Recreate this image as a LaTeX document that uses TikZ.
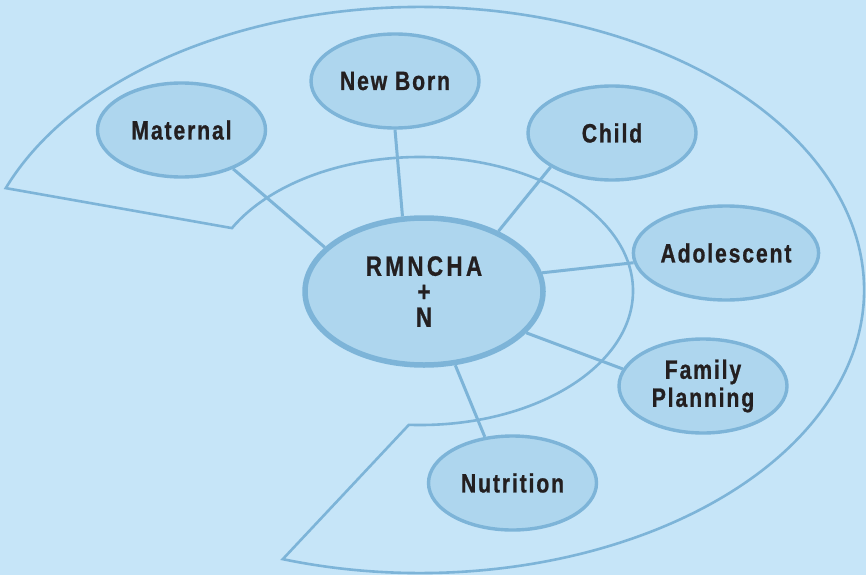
\documentclass[tikz,border=0pt]{standalone}
\usepackage{fontspec}
\usepackage{tikz}
\usetikzlibrary{shapes.geometric}
\newfontfamily\labelfont{Liberation Sans}[FakeStretch=0.8, LetterSpace=7, FakeBold=0.8]
\newfontfamily\hubfont{Liberation Sans}[FakeStretch=0.8, LetterSpace=12, FakeBold=0.8]
\definecolor{sky}{RGB}{198,229,248}
\definecolor{cloud}{RGB}{174,214,238}
\definecolor{rim}{RGB}{125,180,216}
\definecolor{ink}{RGB}{35,31,32}
\newcommand*{\group}[1]{\fontsize{#1}{28}\selectfont\labelfont\bfseries}

\begin{document}
\begin{tikzpicture}[x=1pt, y=-1pt]
  \fill[sky] (0,0) rectangle (866,575);
  \useasboundingbox (0,0) rectangle (866,575);

  % band round the hub
  \draw[rim, line width=2.6pt, line join=miter]
    ([shift={(420,290)}]201.1:444 and 283)
      arc[start angle=201.1, end angle=468, x radius=444, y radius=283]
    -- ([shift={(420,291)}]93:213 and 134)
      arc[start angle=93, end angle=-152, x radius=213, y radius=134]
    -- cycle;

  {\tikzstyle{every node}=[ellipse, draw=rim, fill=cloud, line width=3.4pt,
     text=ink, align=center, inner sep=0pt,
     minimum width=168pt, minimum height=94pt, font=\group{26.5}]
    \node[line width=5.5pt, minimum width=238pt, minimum height=147pt,
          font=\fontsize{28}{25.5}\selectfont\hubfont\bfseries]
      (hub) at (424,291.5) {RMNCHA\\+\\N};
    \node (mat) at (181.5,130) {Maternal};
    \node (nb)  at (395,81)    {New Born};
    \node (ch)  at (612,133)   {Child};
    \node (ado) at (726,253)   {Adolescent};
    \node (fp)  at (703,386)   {Family\\Planning};
    \node (nut) at (512.5,483) {Nutrition};
  }

  \foreach \n/\a/\b in {mat/-37/156, nb/-90/106, ch/209/39,
                        ado/186/9, fp/168/-22, nut/121/-67}
  {
    \draw[rim, line width=3pt] (\n.\a) -- (hub.\b);
  }
\end{tikzpicture}
\end{document}
